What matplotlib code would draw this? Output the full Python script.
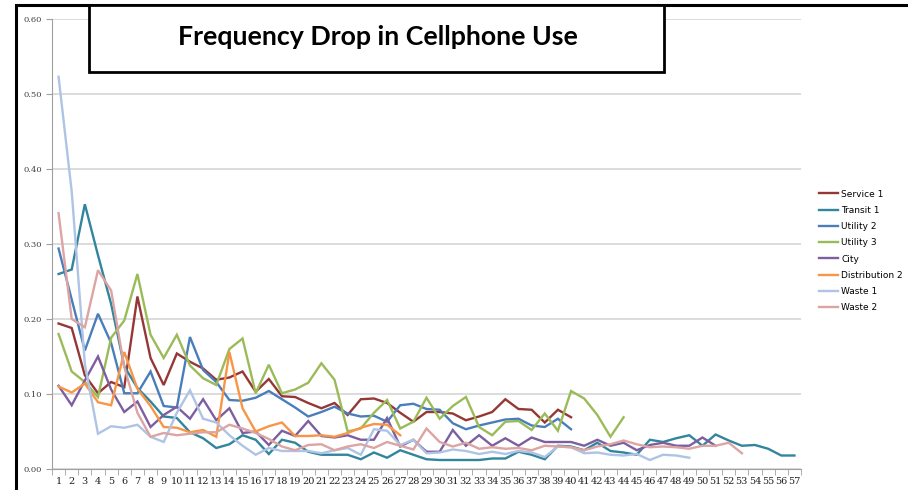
import matplotlib
matplotlib.use("Agg")
import matplotlib.pyplot as plt
import numpy as np
from matplotlib.patches import Rectangle
from matplotlib.lines import Line2D

# values
service1 = [0.194, 0.188, 0.125, 0.101, 0.116, 0.109, 0.230, 0.148, 0.112, 0.154, 0.143, 0.134, 0.119, 0.122,
            0.130, 0.103, 0.120, 0.097, 0.096, 0.088, 0.081, 0.088, 0.072, 0.093, 0.094, 0.088, 0.075, 0.063,
            0.076, 0.076, 0.074, 0.065, 0.070, 0.076, 0.093, 0.080, 0.079, 0.062, 0.079, 0.069]
transit1 = [0.260, 0.266, 0.353, 0.285, 0.220, 0.137, 0.108, 0.090, 0.070, 0.068, 0.049, 0.041, 0.028, 0.033,
            0.045, 0.039, 0.020, 0.039, 0.035, 0.023, 0.019, 0.019, 0.019, 0.013, 0.022, 0.015, 0.025, 0.019,
            0.013, 0.012, 0.012, 0.012, 0.012, 0.014, 0.014, 0.023, 0.019, 0.013, 0.031, 0.030, 0.025, 0.035,
            0.024, 0.022, 0.019, 0.039, 0.036, 0.041, 0.045, 0.031, 0.046, 0.038, 0.031, 0.032, 0.027, 0.018, 0.018]
utility2 = [0.294, 0.226, 0.158, 0.207, 0.168, 0.101, 0.101, 0.130, 0.084, 0.082, 0.176, 0.132, 0.116, 0.092,
            0.091, 0.095, 0.104, 0.093, 0.082, 0.070, 0.076, 0.083, 0.074, 0.070, 0.071, 0.063, 0.085, 0.087,
            0.080, 0.079, 0.061, 0.053, 0.058, 0.062, 0.066, 0.067, 0.058, 0.056, 0.067, 0.053]
utility3 = [0.180, 0.130, 0.116, 0.096, 0.175, 0.198, 0.260, 0.179, 0.148, 0.179, 0.138, 0.121, 0.112, 0.160,
            0.174, 0.101, 0.139, 0.101, 0.106, 0.115, 0.141, 0.119, 0.050, 0.054, 0.075, 0.092, 0.054, 0.063,
            0.095, 0.067, 0.084, 0.096, 0.056, 0.045, 0.063, 0.064, 0.052, 0.074, 0.051, 0.104, 0.094, 0.072,
            0.043, 0.069]
city = [0.111, 0.085, 0.118, 0.150, 0.106, 0.076, 0.090, 0.056, 0.072, 0.083, 0.067, 0.093, 0.065, 0.081,
        0.048, 0.050, 0.032, 0.051, 0.044, 0.064, 0.044, 0.042, 0.045, 0.039, 0.039, 0.068, 0.030, 0.039,
        0.023, 0.023, 0.052, 0.031, 0.045, 0.031, 0.041, 0.031, 0.042, 0.036, 0.036, 0.036, 0.031, 0.039,
        0.031, 0.035, 0.025, 0.032, 0.035, 0.031, 0.031, 0.042, 0.031]
distribution2 = [0.110, 0.102, 0.114, 0.089, 0.085, 0.156, 0.107, 0.084, 0.056, 0.055, 0.049, 0.052, 0.043,
                 0.156, 0.081, 0.050, 0.057, 0.062, 0.044, 0.044, 0.045, 0.043, 0.048, 0.055, 0.060, 0.059, 0.045]
waste1 = [0.523, 0.370, 0.140, 0.047, 0.057, 0.055, 0.059, 0.043, 0.036, 0.075, 0.105, 0.067, 0.062, 0.045,
          0.031, 0.019, 0.028, 0.024, 0.024, 0.024, 0.021, 0.025, 0.028, 0.019, 0.053, 0.051, 0.032, 0.039,
          0.021, 0.022, 0.026, 0.024, 0.020, 0.023, 0.020, 0.024, 0.022, 0.016, 0.030, 0.029, 0.021, 0.022,
          0.019, 0.018, 0.020, 0.012, 0.019, 0.018, 0.015]
waste2 = [0.341, 0.200, 0.189, 0.265, 0.238, 0.136, 0.075, 0.043, 0.048, 0.045, 0.047, 0.049, 0.049, 0.059,
          0.054, 0.048, 0.040, 0.030, 0.025, 0.032, 0.033, 0.025, 0.030, 0.033, 0.028, 0.036, 0.031, 0.026,
          0.054, 0.036, 0.030, 0.035, 0.027, 0.029, 0.027, 0.028, 0.025, 0.031, 0.030, 0.029, 0.025, 0.030,
          0.033, 0.038, 0.033, 0.029, 0.030, 0.029, 0.027, 0.031, 0.031, 0.035, 0.021]

names = ["Service 1", "Transit 1", "Utility 2", "Utility 3", "City", "Distribution 2", "Waste 1", "Waste 2"]
series = [service1, transit1, utility2, utility3, city, distribution2, waste1, waste2]
colors = ["#953735", "#31859C", "#4A7EBB", "#9BBB59", "#7D5FA0", "#F79646", "#AFC4E4", "#DCA4A3"]
categories = list(range(1, 58))

fig = plt.figure(figsize=(9.08, 4.9), dpi=100)
ax = fig.add_axes([52 / 908, 21 / 490, 749 / 908, 450 / 490])

for name, vals, c in zip(names, series, colors):
    ax.plot(range(1, len(vals) + 1), vals, color=c, lw=1.7, label=name, solid_joinstyle="miter")

ax.set_xlim(0.5, 57.5)
ax.set_ylim(0, 0.6)
ax.set_yticks(np.arange(0, 0.61, 0.1))
ax.set_yticklabels(["%.2f" % v for v in np.arange(0, 0.61, 0.1)], fontsize=6, color="#404040",
                   family="DejaVu Serif")
ax.set_xticks(categories)
ax.set_xticklabels([str(c) for c in categories], fontsize=7, color="#202020", family="DejaVu Serif")
ax.set_xticks(np.arange(0.5, 58, 1), minor=True)
ax.tick_params(axis="x", which="major", length=0, pad=6)
ax.tick_params(axis="x", which="minor", length=4, color="#A0A0A0", direction="out")
ax.tick_params(axis="y", length=4, color="#A0A0A0", pad=3)
ax.grid(axis="y", color="#D9D9D9", lw=1.3)
ax.set_axisbelow(True)
for s in ["top", "right"]:
    ax.spines[s].set_visible(False)
ax.spines["left"].set_color("#A0A0A0")
ax.spines["bottom"].set_color("#A0A0A0")

handles = [Line2D([], [], color=c, lw=1.7) for c in colors]
fig.legend(handles, names, loc="upper left", bbox_to_anchor=(815 / 908, 1 - 186 / 490),
           frameon=False, fontsize=6.5, handlelength=2.2, handletextpad=0.3, labelspacing=0.8,
           borderaxespad=0)

# outer frame and title box
fig.add_artist(Rectangle((16 / 908, -0.1), 1.2, (485 / 490) + 0.1, transform=fig.transFigure,
                         fill=False, ec="black", lw=2.2))
fig.add_artist(Rectangle((89 / 908, 1 - 72 / 490), 575 / 908, 67 / 490, transform=fig.transFigure,
                         fc="white", ec="black", lw=2))
fig.text(378 / 908, 1 - 37 / 490, "Frequency Drop in Cellphone Use", ha="center", va="center",
         fontsize=19.3, fontweight="bold", family="Lato")

fig.savefig("out.png", dpi=100)
